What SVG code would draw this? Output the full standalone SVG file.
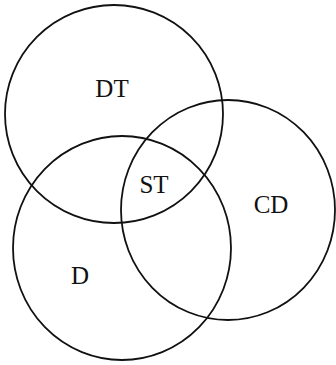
<svg xmlns="http://www.w3.org/2000/svg" width="336" height="365" viewBox="0 0 336 365">
<style>
.c{fill:none;stroke:#111;stroke-width:1.8}
.t{font-family:"Liberation Serif","Times New Roman",serif;font-size:25px;fill:#111;text-anchor:middle}
</style>
<rect width="336" height="365" fill="#fff"/>
<g id="DT"><ellipse class="c" cx="114" cy="114" rx="109" ry="109"/><text class="t" x="112" y="97">DT</text></g>
<g id="CD"><ellipse class="c" cx="228" cy="210" rx="107" ry="110"/><text class="t" x="271" y="213">CD</text></g>
<g id="D"><ellipse class="c" cx="122" cy="248" rx="109" ry="112"/><text class="t" x="80" y="284">D</text></g>
<g id="ST"><text class="t" x="154" y="193">ST</text></g>
<g id="connectors"/>
</svg>
